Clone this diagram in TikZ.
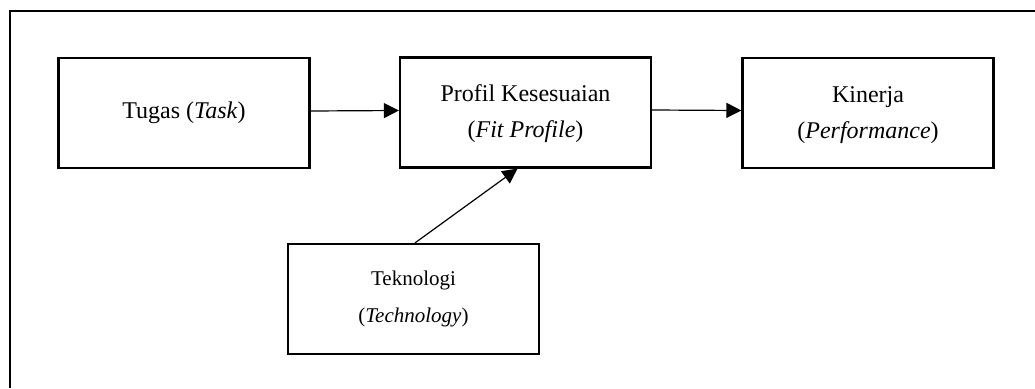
\documentclass[tikz,border=0pt]{standalone}
\usepackage{fontspec}
\setmainfont{Liberation Serif}
\usetikzlibrary{arrows.meta}
\begin{document}
\begin{tikzpicture}[x=1pt,y=1pt,
  box/.style={draw,line width=2.2pt,rectangle,minimum width=251pt,minimum height=110pt,align=center,inner sep=0pt,font=\fontsize{24}{36}\selectfont},
  arr/.style={line width=1.2pt,-{Triangle[length=15pt,width=15pt]}},
  frame/.style={line width=2.6pt}]
\useasboundingbox (0,0) rectangle (1035,-388);
\coordinate (fb) at (10,-388);
\coordinate (fc) at (10,-11);
\coordinate (fr) at (1035,-11);
\draw[frame] (fb) -- (fc) -- (fr);
\node[box] (b1) at (184,-113) {Tugas (\textit{Task})};
\node[box] (b2) at (525.5,-112.5) {\rule{0pt}{20pt}Profil Kesesuaian\\(\textit{Fit Profile})};
\node[box] (b3) at (868,-113) {\rule{0pt}{20pt}Kinerja\\(\textit{Performance})};
\node[box,font=\fontsize{21}{37}\selectfont] (b4) at (413.5,-299) {Teknologi\\(\textit{Technology})};
\draw[arr] ([yshift=2pt]b1.east) -- ([yshift=2pt]b2.west);
\draw[arr] ([yshift=2.5pt]b2.east) -- ([yshift=2.5pt]b3.west);
\draw[arr] ([xshift=1.5pt]b4.north) -- ([xshift=-8pt]b2.south);
\end{tikzpicture}
\end{document}
